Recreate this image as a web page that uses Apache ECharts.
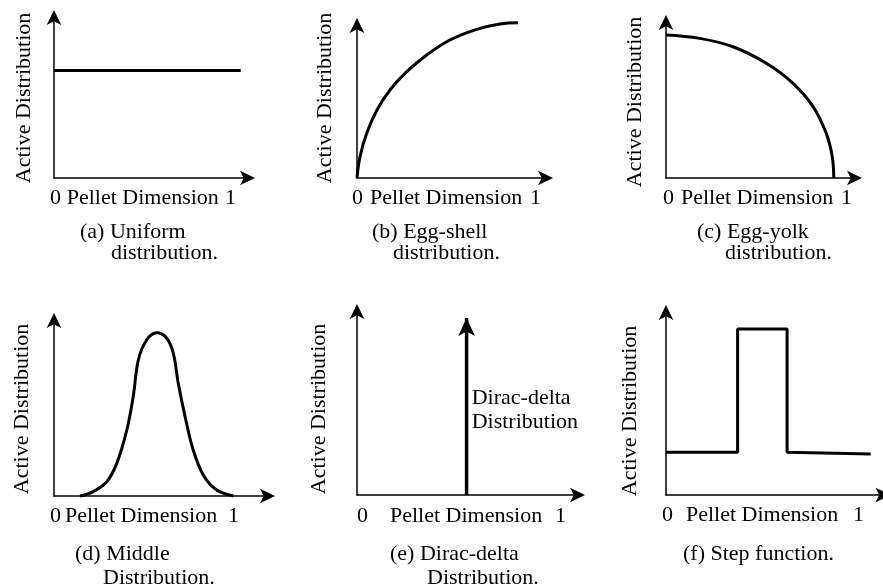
<!DOCTYPE html>
<html><head><meta charset="utf-8">
<script src="https://cdn.jsdelivr.net/npm/echarts@6/dist/echarts.min.js"></script>
<style>html,body{margin:0;padding:0;background:#fff}#c{width:883px;height:588px}</style>
</head><body><div id="c"></div>
<script>
// ---- data (arbitrary units: 0..100 along each drawn axis) ----
const uniform  = [[0, 67], [96.5, 67]];
const eggShell = [[0, 0], [1.6, 14], [5.2, 29.5], [10.6, 44.6], [17.5, 57.7], [26.4, 69.7], [37, 80.7], [49.3, 90.5], [63.5, 97.5], [75.9, 101], [85.4, 101.8]];
const eggYolk  = [[0, 92], [17.9, 89.8], [35.5, 84.4], [53.2, 73.8], [67.4, 60.9], [78, 45.9], [85, 28.7], [88.2, 13.7], [89, 0]];
const middle   = [[12.2, 0], [18.4, 2.5], [24.7, 8.1], [29.4, 18.6], [34.1, 37.6], [37.1, 56.6], [39.5, 77.5], [43.4, 88.9], [48.1, 93], [52.8, 89.9], [55.9, 81.3], [58.2, 64.2], [61.4, 45.2], [65.2, 26.2], [69.9, 12], [76.2, 3.4], [84, 0]];
const diracX   = [49.7, 49.7];
const diracY   = [0, 96.5];
const stepFn   = [[0, 23.4], [33, 23.4], [33, 91], [55.8, 91], [55.8, 23.4], [94.3, 22.5]];

const xStart = '0';
const xEnd = '1';
const xTitle = 'Pellet Dimension';
const yTitle = 'Active Distribution';
const deltaLabel = ['Dirac-delta', 'Distribution'];
const captions = [
  ['(a) Uniform', 'distribution.'],
  ['(b) Egg-shell', 'distribution.'],
  ['(c) Egg-yolk', 'distribution.'],
  ['(d) Middle', 'Distribution.'],
  ['(e) Dirac-delta', 'Distribution.'],
  ['(f) Step function.']
];

// ---- layout ----
const grids = [
  {left: 54,  top: 17.5,  width: 193.5, height: 160.5},
  {left: 357, top: 25.5,  width: 188.5, height: 152.5},
  {left: 666, top: 22.5,  width: 188.5, height: 155.5},
  {left: 54,  top: 320.5, width: 213.5, height: 175.5},
  {left: 357, top: 311.5, width: 220.5, height: 183.5},
  {left: 666, top: 312.5, width: 218.5, height: 182.5}
];
const textPos = [
  {zero: 50,  title: 66.7, one: 225,  y: 198, yl: [24, 98],   cap: [[80, 232], [111, 253]]},
  {zero: 352, title: 370,  one: 530,  y: 198, yl: [325, 98],  cap: [[372, 232], [393, 253]]},
  {zero: 663, title: 681,  one: 841,  y: 198, yl: [635, 102], cap: [[697, 232], [725, 253]]},
  {zero: 50,  title: 65,   one: 228,  y: 516, yl: [22.5, 409],cap: [[75, 554], [103, 578]]},
  {zero: 357, title: 390,  one: 555,  y: 516, yl: [319, 409], cap: [[390, 554], [427, 578]]},
  {zero: 662, title: 686,  one: 853,  y: 515, yl: [630, 411], cap: [[683, 554]]}
];

const FONT = '22px "Liberation Serif", "Times New Roman", serif';
const axisLine = {show: true, onZero: false, symbol: ['none', 'arrow'], symbolSize: [11, 15],
  symbolOffset: [0, 7.5], lineStyle: {color: '#000', width: 1.5}};
const mkAxis = i => ({type: 'value', gridIndex: i, min: 0, max: 100, axisLine: axisLine,
  axisTick: {show: false}, axisLabel: {show: false}, splitLine: {show: false}});

const curveStyle = {color: '#000', width: 3};
const baseSeries = (i, data, smooth) => ({
  type: 'line', xAxisIndex: i, yAxisIndex: i, data: data, smooth: smooth || false,
  symbol: 'none', showSymbol: false, clip: false, lineStyle: curveStyle, silent: true
});

const series = [
  baseSeries(0, uniform),
  baseSeries(1, eggShell, 0.4),
  baseSeries(2, eggYolk, 0.4),
  baseSeries(3, middle, 0.35),
  {
    type: 'line', xAxisIndex: 4, yAxisIndex: 4, clip: false, silent: true,
    data: [
      {value: [diracX[0], diracY[0]], symbol: 'none'},
      {value: [diracX[1], diracY[1]], symbol: 'arrow', symbolSize: [12.5, 18]}
    ],
    symbol: 'arrow', symbolSize: [12.5, 18], showSymbol: true,
    itemStyle: {color: '#000'}, lineStyle: {color: '#000', width: 3.5}
  },
  baseSeries(5, stepFn)
];

const txt = (x, y, text, extra) => Object.assign({
  type: 'text', x: x, y: y, silent: true,
  style: {text: text, font: FONT, fill: '#000', align: 'left', verticalAlign: 'middle',
          textAlign: 'left', textVerticalAlign: 'middle'}
}, extra || {});

const elements = [];
textPos.forEach((p, i) => {
  elements.push(txt(p.zero, p.y, xStart));
  elements.push(txt(p.title, p.y, xTitle));
  elements.push(txt(p.one, p.y, xEnd));
  const yl = txt(p.yl[0], p.yl[1], yTitle, {rotation: Math.PI / 2});
  yl.style.align = 'center'; yl.style.textAlign = 'center';
  elements.push(yl);
  captions[i].forEach((line, k) => elements.push(txt(p.cap[k][0], p.cap[k][1], line)));
});
elements.push(txt(471.7, 398, deltaLabel[0]));
elements.push(txt(471.7, 422, deltaLabel[1]));

const chart = echarts.init(document.getElementById('c'), null, {renderer: 'canvas'});
chart.setOption({
  animation: false,
  backgroundColor: '#fff',
  grid: grids.map(g => Object.assign({containLabel: false}, g)),
  xAxis: grids.map((g, i) => mkAxis(i)),
  yAxis: grids.map((g, i) => mkAxis(i)),
  series: series,
  graphic: {elements: elements}
});
</script>
</body></html>
